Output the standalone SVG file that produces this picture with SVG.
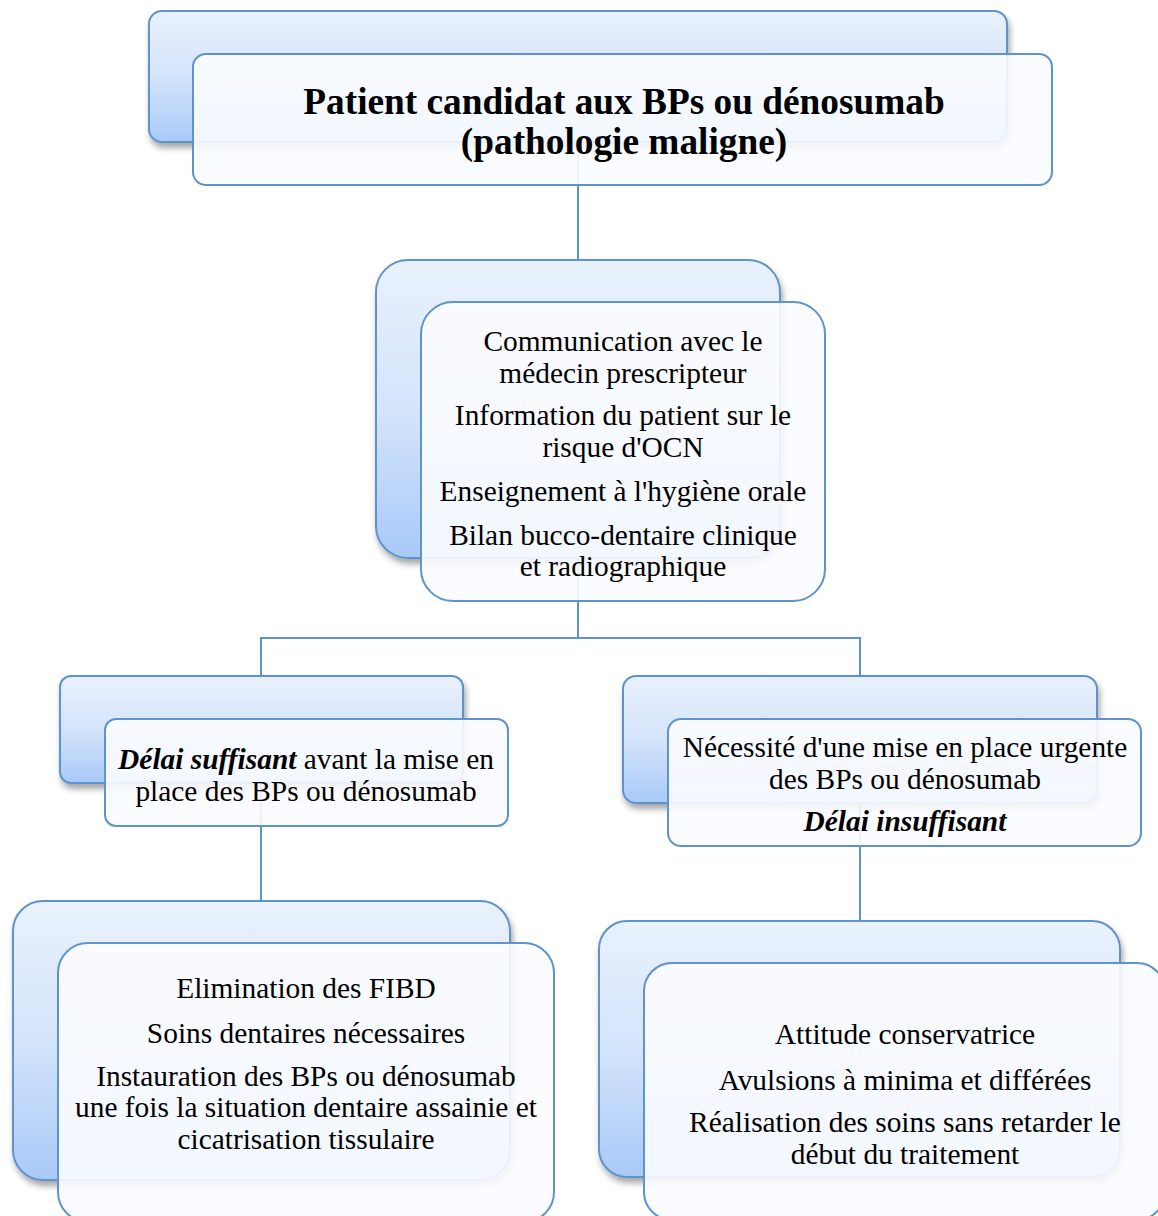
<svg xmlns="http://www.w3.org/2000/svg" width="1158" height="1216" viewBox="0 0 1158 1216">
<defs>
<linearGradient id="g" x1="0" y1="0" x2="0" y2="1">
<stop offset="0" stop-color="#e9f1fd"/>
<stop offset="0.5" stop-color="#d4e4fb"/>
<stop offset="1" stop-color="#a9c9f8"/>
</linearGradient>
<filter id="sh" x="-10%" y="-10%" width="120%" height="130%">
<feDropShadow dx="2" dy="5" stdDeviation="3" flood-color="#000" flood-opacity="0.35"/>
</filter>
</defs>
<style>
.back{fill:url(#g);stroke:#5f93cb;stroke-width:2;filter:url(#sh)}
.front{fill:#fbfcff;fill-opacity:0.9;stroke:#5f93cb;stroke-width:2}
.c{fill:none;stroke:#5f93cb;stroke-width:2}
text{font-family:"Liberation Serif","Times New Roman",serif;font-size:29.4px;fill:#000;text-anchor:middle}
.t{font-size:37.3px;font-weight:bold}
.bi{font-weight:bold;font-style:italic}
</style>
<rect width="1158" height="1216" fill="#fff"/>
<g id="connectors">
<path class="c" d="M578 142 V260"/>
<path class="c" d="M578 558 V638 M261 676 V638 H860 V676"/>
<path class="c" d="M261 783 V901"/>
<path class="c" d="M860 803 V921"/>
</g>
<g id="n1">
<rect class="back" x="149" y="11" width="858" height="131" rx="13"/>
<rect class="front" x="193" y="54" width="859" height="131" rx="13"/>
<text class="t" x="624" y="114">Patient candidat aux BPs ou dénosumab</text>
<text class="t" x="624" y="154">(pathologie maligne)</text>
</g>
<g id="n2">
<rect class="back" x="376" y="260" width="404" height="298" rx="32"/>
<rect class="front" x="421" y="302" width="404" height="299" rx="32"/>
<text x="623" y="351">Communication avec le</text>
<text x="623" y="383">médecin prescripteur</text>
<text x="623" y="425">Information du patient sur le</text>
<text x="623" y="457">risque d'OCN</text>
<text x="623" y="501">Enseignement à l'hygiène orale</text>
<text x="623" y="545">Bilan bucco-dentaire clinique</text>
<text x="623" y="576">et radiographique</text>
</g>
<g id="n3">
<rect class="back" x="60" y="676" width="403" height="107" rx="11"/>
<rect class="front" x="105" y="719" width="403" height="107" rx="11"/>
<text x="306" y="769"><tspan class="bi">Délai suffisant</tspan> avant la mise en</text>
<text x="306" y="801">place des BPs ou dénosumab</text>
</g>
<g id="n4">
<rect class="back" x="623" y="676" width="474" height="127" rx="13"/>
<rect class="front" x="668" y="719" width="473" height="127" rx="13"/>
<text x="905" y="757">Nécessité d'une mise en place urgente</text>
<text x="905" y="789">des BPs ou dénosumab</text>
<text class="bi" x="905" y="831">Délai insuffisant</text>
</g>
<g id="n5">
<rect class="back" x="13" y="901" width="497" height="279" rx="30"/>
<rect class="front" x="58" y="943" width="496" height="279" rx="30"/>
<text x="306" y="998">Elimination des FIBD</text>
<text x="306" y="1043">Soins dentaires nécessaires</text>
<text x="306" y="1086">Instauration des BPs ou dénosumab</text>
<text x="306" y="1117">une fois la situation dentaire assainie et</text>
<text x="306" y="1149">cicatrisation tissulaire</text>
</g>
<g id="n6">
<rect class="back" x="599" y="921" width="521" height="256" rx="28"/>
<rect class="front" x="644" y="963" width="521" height="257" rx="28"/>
<text x="905" y="1044">Attitude conservatrice</text>
<text x="905" y="1090">Avulsions à minima et différées</text>
<text x="905" y="1132">Réalisation des soins sans retarder le</text>
<text x="905" y="1164">début du traitement</text>
</g>
</svg>
